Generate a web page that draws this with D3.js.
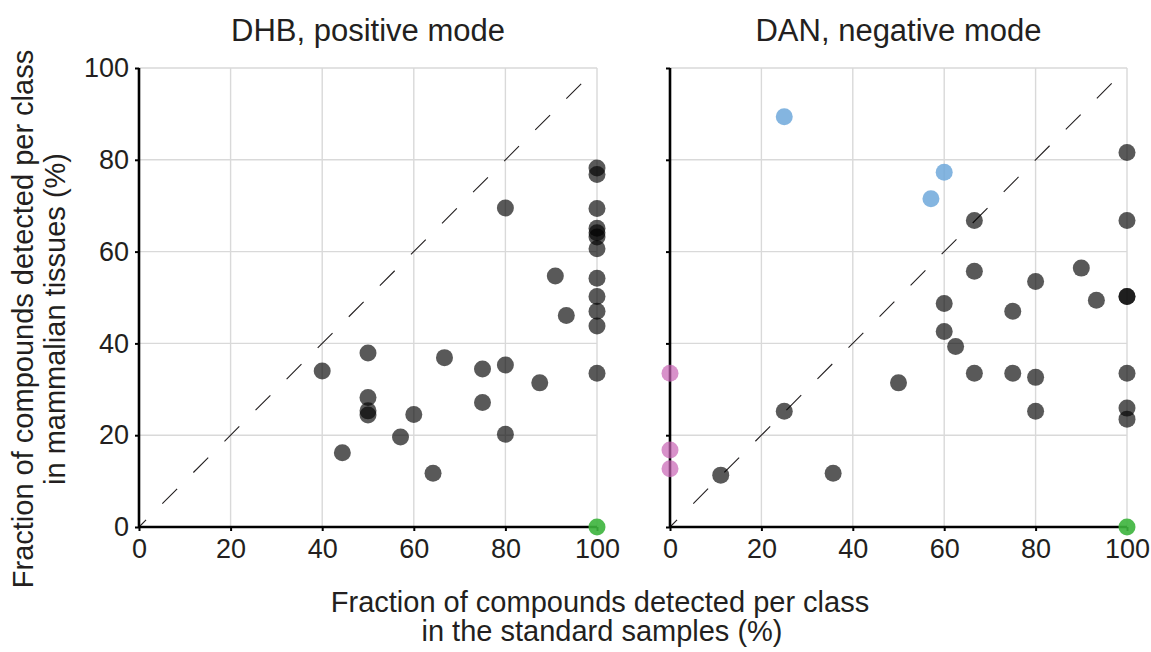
<!DOCTYPE html>
<html>
<head>
<meta charset="utf-8">
<script src="https://d3js.org/d3.v7.min.js"></script>
<style>
  body { margin: 0; background: #fff; }
  text { font-family: "Liberation Sans", Arial, sans-serif; fill: #231f20; }
</style>
</head>
<body>
<svg id="chart" width="1151" height="652"></svg>
<script>
// DHB, positive mode: [standard %, tissue %]
const dhbGray = [
  [40, 34.0], [50, 37.9], [50, 28.2], [50, 25.3], [50, 24.4], [44.4, 16.2],
  [57.1, 19.6], [60, 24.5], [64.2, 11.7], [66.7, 36.9], [75, 34.4], [75, 27.1],
  [80, 35.3], [80, 20.2], [80, 69.5], [87.5, 31.4], [90.9, 54.7], [93.3, 46.1],
  [100, 78.2], [100, 76.8], [100, 69.4], [100, 65.1], [100, 64.1], [100, 63.2],
  [100, 60.6], [100, 54.2], [100, 50.2], [100, 47.0], [100, 43.8], [100, 33.5]
];
const dhbGreen = [[100, 0]];

// DAN, negative mode
const danGray = [
  [66.6, 66.8], [100, 81.6], [100, 66.8], [66.6, 55.7], [80, 53.5], [90, 56.4],
  [93.3, 49.4], [100, 50.2], [100, 50.2], [60, 48.7], [75, 47.0], [60, 42.6],
  [62.5, 39.3], [66.6, 33.5], [75, 33.5], [80, 32.6], [100, 33.5], [50, 31.4],
  [25, 25.2], [80, 25.2], [100, 25.9], [100, 23.5], [11.1, 11.3], [35.7, 11.7]
];
const danBlue = [[25, 89.4], [60, 77.3], [57.1, 71.5]];
const danPink = [[0, 33.5], [0, 16.8], [0, 12.7]];
const danGreen = [[100, 0]];

const ticks = [0, 20, 40, 60, 80, 100];
const titles = ["DHB, positive mode", "DAN, negative mode"];
const yTitle = ["Fraction of compounds detected per class", "in mammalian tissues (%)"];
const xTitle = ["Fraction of compounds detected per class", "in the standard samples (%)"];

const svg = d3.select('#chart');
const y = d3.scaleLinear().domain([0, 100]).range([527, 68]);

function drawPanel(xRange, title, showYLabels, groups) {
  const x = d3.scaleLinear().domain([0, 100]).range(xRange);
  const g = svg.append('g');

  // grid
  g.append('g').selectAll('line')
    .data(ticks.slice(1)).enter().append('line')
    .attr('x1', d => x(d)).attr('x2', d => x(d))
    .attr('y1', y(0)).attr('y2', y(100))
    .attr('stroke', '#d9d9d9').attr('stroke-width', 1.4);
  g.append('g').selectAll('line')
    .data(ticks.slice(1)).enter().append('line')
    .attr('x1', x(0)).attr('x2', x(100))
    .attr('y1', d => y(d)).attr('y2', d => y(d))
    .attr('stroke', '#d9d9d9').attr('stroke-width', 1.4);

  // identity line
  g.append('line')
    .attr('x1', x(0)).attr('y1', y(0)).attr('x2', x(100)).attr('y2', y(100))
    .attr('stroke', '#231f20').attr('stroke-width', 1.1)
    .attr('stroke-dasharray', '21,23').attr('stroke-dashoffset', 11);

  // axes
  const xAxis = g.append('g')
    .attr('transform', `translate(0,${y(0)})`)
    .call(d3.axisBottom(x).tickValues(ticks).tickSize(4).tickPadding(8));
  const yAxis = g.append('g')
    .attr('transform', `translate(${x(0)},0)`)
    .call(d3.axisLeft(y).tickValues(ticks).tickSize(4).tickPadding(6)
      .tickFormat(showYLabels ? d3.format('d') : () => ''));
  [xAxis, yAxis].forEach(a => {
    a.select('.domain').attr('stroke', '#000').attr('stroke-width', 2.6);
    a.selectAll('.tick line').attr('stroke', '#000').attr('stroke-width', 2);
    a.selectAll('.tick text').attr('font-size', 27)
      .attr('font-family', '"Liberation Sans", Arial, sans-serif').attr('fill', '#231f20');
  });
  xAxis.select('.domain').attr('d', `M${x(0)},0H${x(100)}`);
  yAxis.select('.domain').attr('d', `M0,${y(0)}V${y(100)}`);

  // points
  groups.forEach(grp => {
    g.append('g').selectAll('circle')
      .data(grp.data).enter().append('circle')
      .attr('cx', d => x(d[0])).attr('cy', d => y(d[1]))
      .attr('r', 8.5)
      .attr('fill', grp.color).attr('fill-opacity', grp.opacity);
  });

  g.append('text')
    .attr('x', (xRange[0] + xRange[1]) / 2).attr('y', 41)
    .attr('text-anchor', 'middle').attr('font-size', 31)
    .text(title);
}

drawPanel([139, 597], titles[0], true, [
  { data: dhbGray, color: '#000', opacity: 0.65 },
  { data: dhbGreen, color: '#3cb43c', opacity: 0.9 }
]);
drawPanel([670, 1127], titles[1], false, [
  { data: danGray, color: '#000', opacity: 0.65 },
  { data: danBlue, color: '#6fa8da', opacity: 0.85 },
  { data: danPink, color: '#c862b4', opacity: 0.7 },
  { data: danGreen, color: '#3cb43c', opacity: 0.9 }
]);

// y axis label
const yl = svg.append('text')
  .attr('transform', 'translate(0,319) rotate(-90)')
  .attr('text-anchor', 'middle').attr('font-size', 29);
yl.append('tspan').attr('x', 0).attr('y', 33).text(yTitle[0]);
yl.append('tspan').attr('x', 0).attr('y', 65).text(yTitle[1]);

// x axis label
const xl = svg.append('text')
  .attr('text-anchor', 'middle').attr('font-size', 29);
xl.append('tspan').attr('x', 600).attr('y', 612).text(xTitle[0]);
xl.append('tspan').attr('x', 602).attr('y', 641).text(xTitle[1]);
</script>
</body>
</html>
